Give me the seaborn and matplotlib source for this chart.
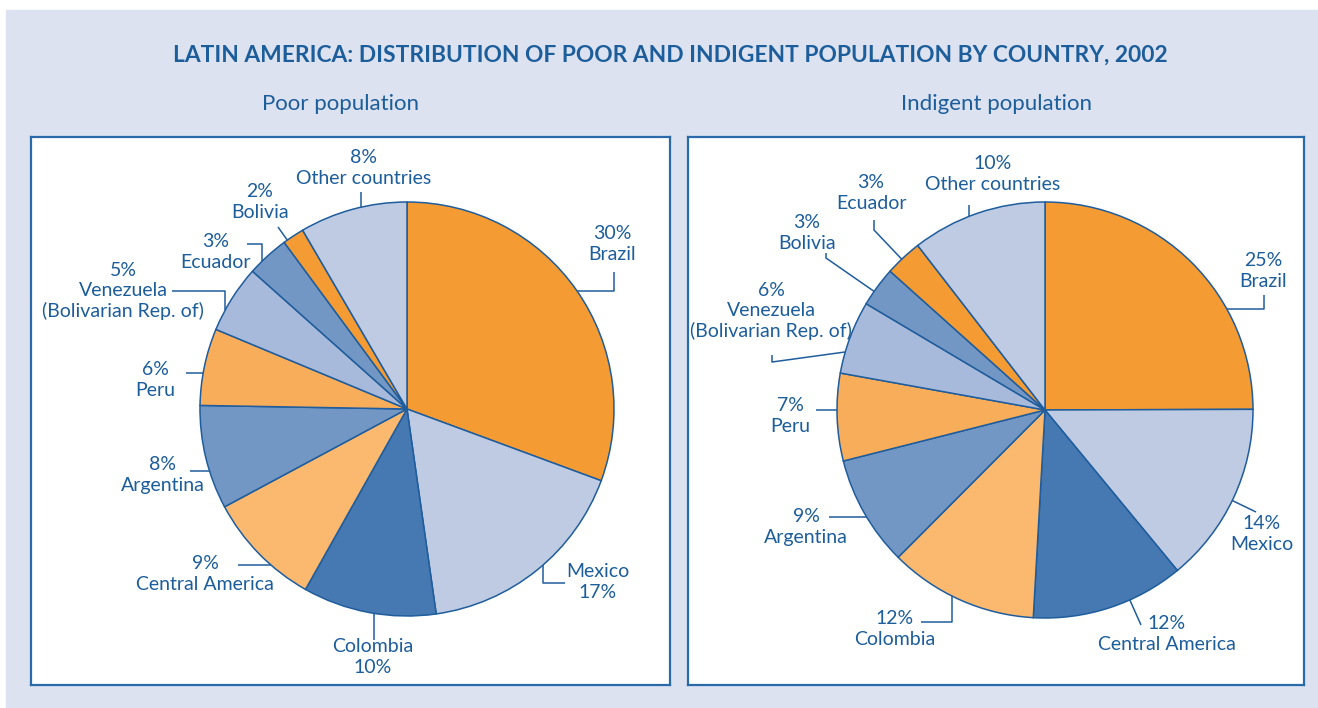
import numpy as np
import seaborn as sns
import matplotlib.pyplot as plt
from matplotlib.patches import Rectangle

# data (shares, labels as printed)
countries_poor = ["Brazil", "Mexico", "Colombia", "Central America", "Argentina", "Peru",
                  "Venezuela\n(Bolivarian Rep. of)", "Ecuador", "Bolivia", "Other countries"]
share_poor = [30.6, 17.1, 10.4, 9.0, 8.1, 6.0, 5.3, 3.3, 1.7, 8.4]
pct_poor = [30, 17, 10, 9, 8, 6, 5, 3, 2, 8]

countries_ind = ["Brazil", "Mexico", "Central America", "Colombia", "Argentina", "Peru",
                 "Venezuela\n(Bolivarian Rep. of)", "Bolivia", "Ecuador", "Other countries"]
share_ind = [25.0, 14.1, 11.9, 11.6, 8.6, 6.8, 5.7, 3.1, 2.9, 10.5]
pct_ind = [25, 14, 12, 12, 9, 7, 6, 3, 3, 10]

title = "LATIN AMERICA: DISTRIBUTION OF POOR AND INDIGENT POPULATION BY COUNTRY, 2002"
subtitles = ["Poor population", "Indigent population"]

# colours go by slice position, same sequence in both pies
slice_colors = sns.color_palette(["#f59b33", "#bfcbe3", "#4679b2", "#fbb86f", "#7397c4",
                                  "#f8ad5b", "#a8badb", "#7397c4", "#f59b33", "#bfcbe3"])
EDGE = "#1f5d9c"
TXT = "#1c5d9b"
BG = "#dce2ef"

sns.set_style("white")
plt.rcParams['font.family'] = ['Lato', 'DejaVu Sans']

W, H = 1318, 708
fig = plt.figure(figsize=(W / 100, H / 100), dpi=100)
fig.patches.append(Rectangle((6 / W, 0), 1, (H - 10) / H, transform=fig.transFigure,
                             color=BG, zorder=-10))

fig.text(670 / W, 1 - 55 / H, title, ha='center', va='center', fontsize=16.4,
         fontweight='bold', color=TXT)

# layout in figure pixels (top-down): white box, pie centre, radius
panels = [
    dict(box=(31, 137, 670, 685), c=(407, 409), r=207, sub_x=341),
    dict(box=(688, 137, 1304, 685), c=(1045, 410), r=208, sub_x=996),
]

# label layout: text centre, name above/below pct, leader points, last move to the pie
layout_poor = [
    ((612, 244), False, [(614, 272), (614, 291)], 'h'),
    ((598, 582), True, [(565, 583), (543, 583)], 'v'),
    ((373, 657), True, [(374, 640)], 'v'),
    ((205, 574), False, [(238, 565)], 'h'),
    ((163, 475), False, [(190, 471)], 'h'),
    ((155, 380), False, [(186, 373)], 'h'),
    ((123, 291), False, [(172, 291), (225, 291)], 'v'),
    ((216, 252), False, [(247, 244), (262, 244)], 'v'),
    ((260, 202), False, [(278, 227)], 'r'),
    ((364, 168), False, [(361, 192)], 'v'),
]
layout_ind = [
    ((1263, 271), False, [(1264, 295), (1264, 309)], 'h'),
    ((1262, 534), False, [(1256, 512)], 'r'),
    ((1167, 634), False, [(1141, 625)], 'r'),
    ((895, 629), False, [(921, 622), (952, 622)], 'v'),
    ((806, 527), False, [(829, 517)], 'h'),
    ((790, 416), False, [(816, 410)], 'h'),
    ((771, 311), False, [(772, 355), (772, 362), (845, 352)], None),
    ((807, 233), False, [(826, 253), (826, 258)], 'r'),
    ((871, 193), False, [(874, 220), (874, 230)], 'r'),
    ((993, 174), False, [(969, 205)], 'v'),
]


def to_circle(p, mode, c, r):
    x, y = p
    cx, cy = c
    if mode == 'h':
        d = np.sqrt(r ** 2 - (y - cy) ** 2)
        return (cx - d if x < cx else cx + d, y)
    if mode == 'v':
        d = np.sqrt(r ** 2 - (x - cx) ** 2)
        return (x, cy - d if y < cy else cy + d)
    d = np.hypot(x - cx, y - cy)
    return (cx + (x - cx) * r / d, cy + (y - cy) * r / d)


def draw_pie(panel, shares, pcts, names, layout, subtitle):
    x0, y0, x1, y1 = panel['box']
    cx, cy = panel['c']
    r = panel['r']
    ax = fig.add_axes([x0 / W, 1 - y1 / H, (x1 - x0) / W, (y1 - y0) / H])
    ax.pie(shares, colors=slice_colors, startangle=90, counterclock=False, radius=1,
           wedgeprops=dict(edgecolor=EDGE, linewidth=1.1))
    ax.set_aspect('auto')
    ax.set_xlim((x0 - cx) / r, (x1 - cx) / r)
    ax.set_ylim((cy - y1) / r, (cy - y0) / r)
    ax.set_frame_on(True)
    ax.set_facecolor('white')
    for s in ax.spines.values():
        s.set_color("#2a6aa8")
        s.set_linewidth(1.6)
    ax.set_xticks([])
    ax.set_yticks([])

    def d(p):
        return ((p[0] - cx) / r, (cy - p[1]) / r)

    for pct, name, (tpos, name_first, pts, mode) in zip(pcts, names, layout):
        label = f"{name}\n{pct}%" if name_first else f"{pct}%\n{name}"
        ax.text(*d(tpos), label, ha='center', va='center', fontsize=14, color=TXT,
                linespacing=1.22)
        pts = list(pts)
        if mode is not None:
            pts.append(to_circle(pts[-1], mode, (cx, cy), r))
        xs, ys = zip(*[d(p) for p in pts])
        ax.plot(xs, ys, color=EDGE, lw=1.1, solid_capstyle='butt')

    fig.text(panel['sub_x'] / W, 1 - 104 / H, subtitle, ha='center', va='center',
             fontsize=16, color=TXT)


draw_pie(panels[0], share_poor, pct_poor, countries_poor, layout_poor, subtitles[0])
draw_pie(panels[1], share_ind, pct_ind, countries_ind, layout_ind, subtitles[1])

fig.savefig("out.png", dpi=100, facecolor='white')
